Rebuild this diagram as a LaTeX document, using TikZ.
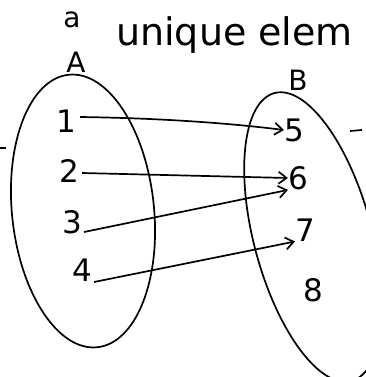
\documentclass[tikz,border=0pt]{standalone}
\usepackage{fontspec}
\setmainfont{DejaVu Sans}
\usetikzlibrary{arrows.meta}
\begin{document}
\begin{tikzpicture}[x=1pt,y=-1pt,
  setline/.style={line width=1.7pt},
  elem/.style={inner sep=0pt,font=\fontsize{31}{31}\selectfont},
  lab/.style={inner sep=0pt,font=\fontsize{28}{28}\selectfont},
  map/.style={line width=1.7pt,-{Straight Barb[length=8pt,width=12pt]}}]
\useasboundingbox (0,0) rectangle (366,377);
\clip (0,0) rectangle (366,377);
\node[inner sep=0pt,font=\fontsize{28}{28}\selectfont] (art) at (72,20) {a};
\node[inner sep=0pt,anchor=west,font=\fontsize{38}{38}\selectfont] (title) at (116,35) {unique elem};
\node[lab] (lA) at (76,62) {A};
\node[lab] (lB) at (298,80) {B};
\draw[setline] (83,211) ellipse [x radius=71, y radius=137, rotate=6];
\draw[setline] (313,237) ellipse [x radius=59, y radius=149, rotate=15];
\node[elem] (e1) at (66,121) {1};
\node[elem] (e2) at (69,171) {2};
\node[elem] (e3) at (72,222) {3};
\node[elem] (e4) at (82,270) {4};
\node[elem] (e5) at (294,130) {5};
\node[elem] (e6) at (298,178) {6};
\node[elem] (e7) at (305,230) {7};
\node[elem] (e8) at (313,290) {8};
\draw[map] (e1.east) ++(4,-4) coordinate (s1) .. controls (150,118) and (220,122) .. (e5.west);
\draw[map] (e2.east) ++(3,2) coordinate (s2) -- (e6.west);
\draw[map] (e3.east) ++(2,10) coordinate (s3) -- (e6.south west);
\draw[map] (e4.east) ++(2,12) coordinate (s4) -- (e7.south west);
\coordinate (d1a) at (0,148);
\coordinate (d1b) at (6,148);
\coordinate (d2a) at (350,131);
\coordinate (d2b) at (362,130);
\draw[setline] (d1a) -- (d1b);
\draw[setline] (d2a) -- (d2b);
\end{tikzpicture}
\end{document}
